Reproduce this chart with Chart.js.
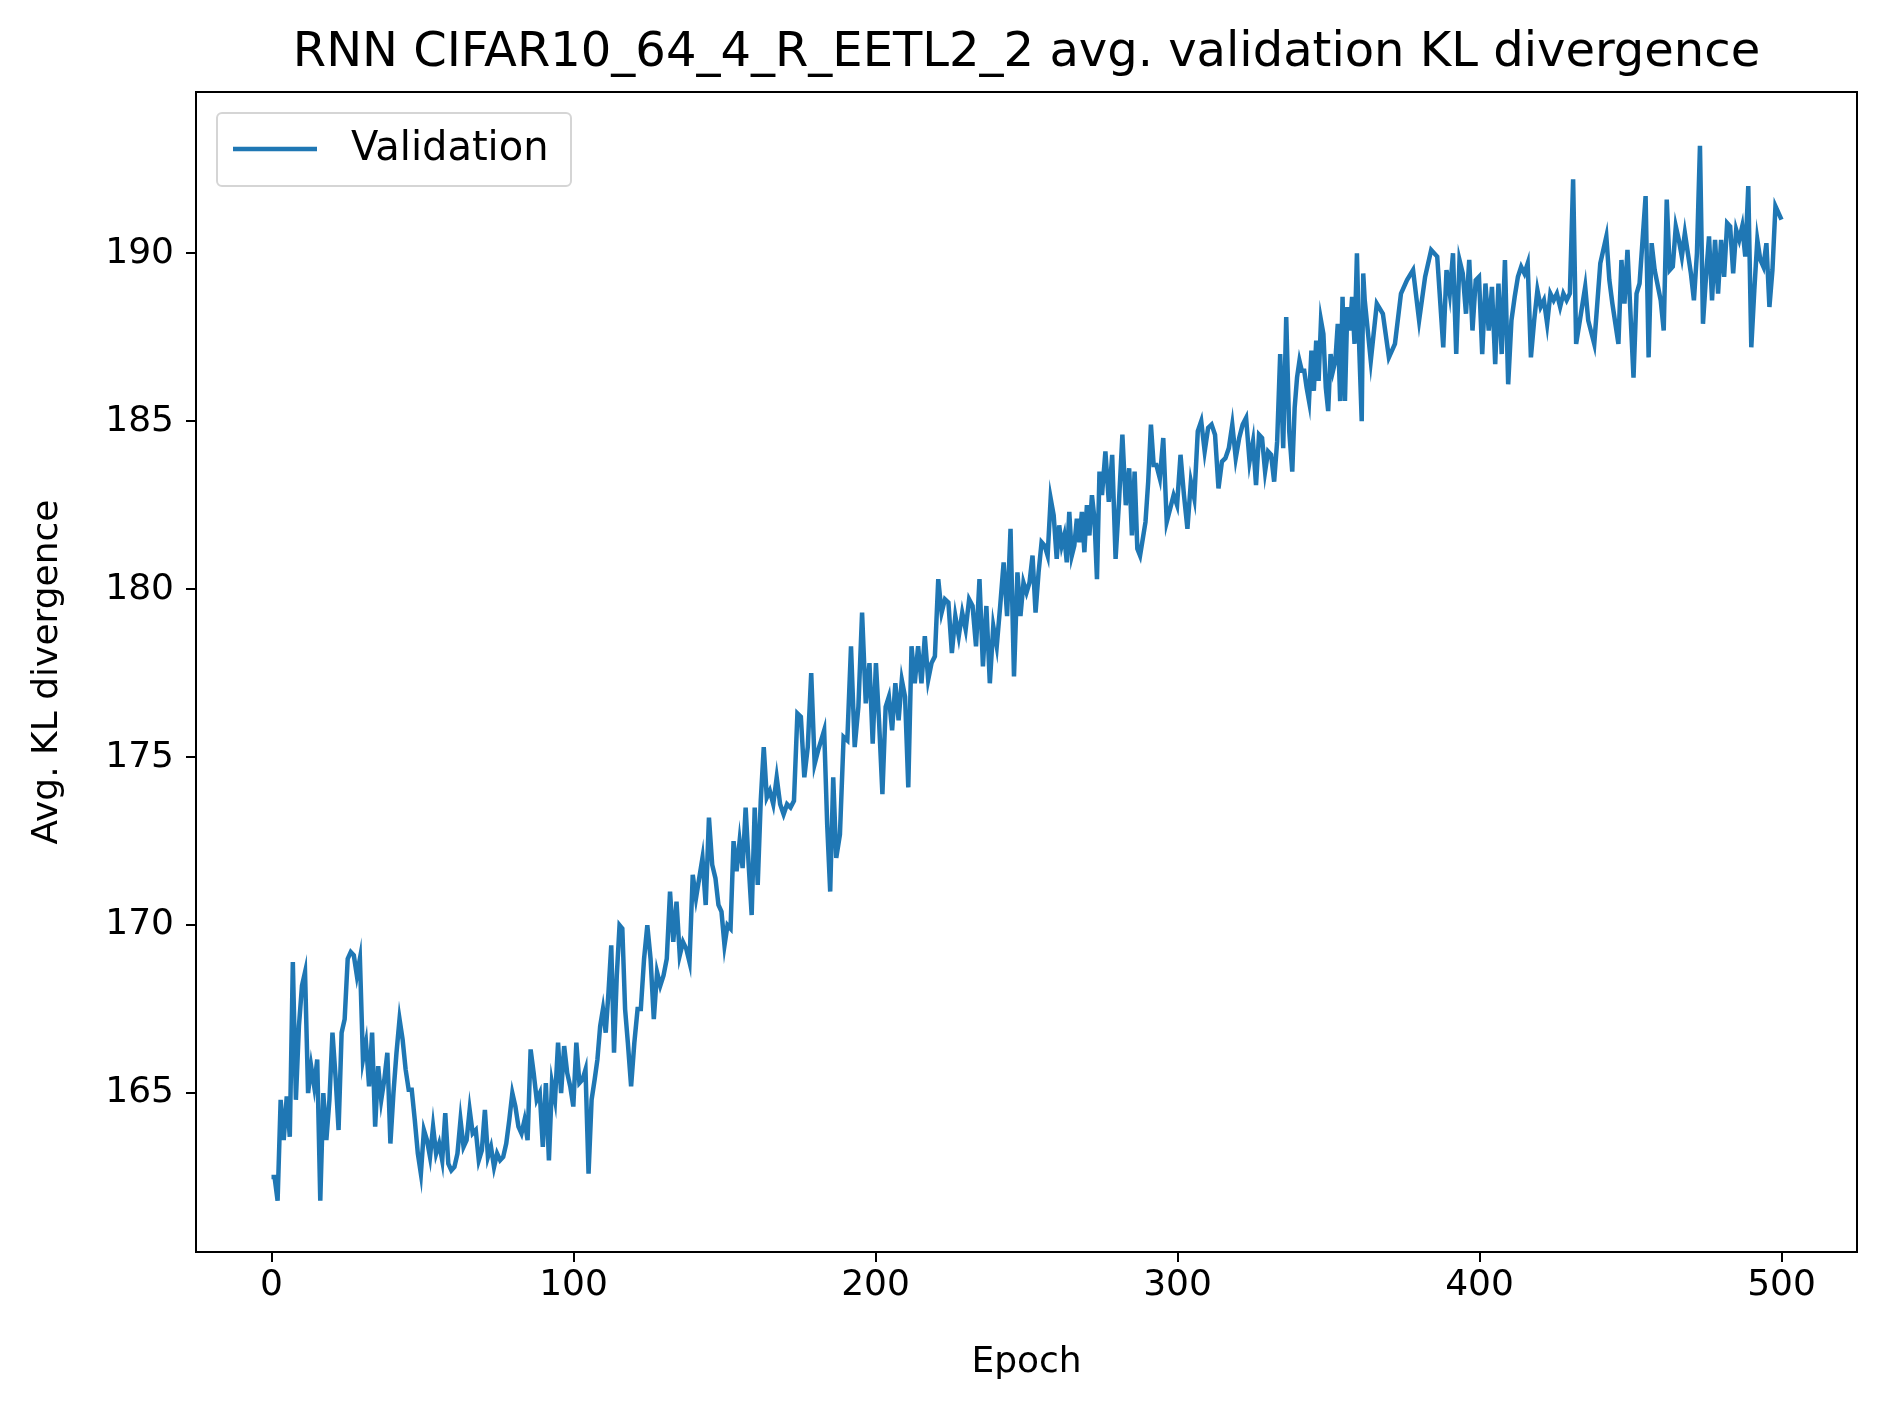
<!DOCTYPE html>
<html>
<head>
<meta charset="utf-8">
<script src="https://cdn.jsdelivr.net/npm/chart.js@4"></script>
<style>
  body { margin: 0; background: #fff; }
  #wrap { width: 1887px; height: 1408px; }
</style>
</head>
<body>
<div id="wrap"><canvas id="kl-chart"></canvas></div>
<script>
// values, epoch by epoch (spacing fixed up by the anchors below)
const klMain = [
  162.5,162.5,161.8,164.8,163.6,164.9,163.7,168.9,164.8,167,168.2,168.6,165,165.8,165.2,166,161.8,165,163.6,164.8,
  166.8,165.5,163.9,166.8,167.2,169,169.2,169.1,168.5,169,166,166.5,165.2,166.8,164,165.8,164.8,165.4,166.2,163.5,
  165,166.2,167.2,166.6,165.7,165.1,165.1,164.2,163.2,162.6,163.9,163.6,163.1,164,163.2,163.5,163,164.4,162.9,162.7,
  162.8,163.2,164.2,163.4,163.6,164.5,163.8,163.9,163,163.3,164.5,163.1,163.4,162.8,163.2,163,163.1,163.5,164.2,165,
  164.6,164,163.8,164.2,163.6,166.3,165.6,164.8,165,163.4,165.3,163,165.3,164.8,166.5,165,166.4,165.6,165.2,164.6,
  166.5,165.3,165.4,165.7,162.6,164.8,165.4,166,167,167.5,166.8,168,169.4,166.2,168.5,170,169.9,167.5,166.5,165.2,
  166.5,167.5,167.5,169,170,169,167.2,168.6,168.2,168.5,169,171,169.5,170.7,169.1,169.5,169.3,168.9,171.5,170.8,
  171.4,172,170.6,173.2,171.8,171.4,170.6,170.4,169.4,170,169.9,172.5,171.6,172.5,171.7,173.5,171.8,170.3,173.5,171.2,
  173.7,175.3,173.8,174,173.6,174.4,173.6,173.3,173.6,173.5,173.7,176.3,176.2,174.4,175.3,177.5,174.8,175.2,175.5,175.8,
  173,171,174.4,172,172.7,175.6,175.5,178.3,175.3,176.5,179.3,176.6,177.8,175.4,177.8,176,173.9,176.5,176.8,175.8,
  177.2,176.1,177.3,176.8,174.1,178.3,177.2,178.3,177.2,178.6,177.3,177.8,178,180.3,179.3,179.7,179.6,178.1,179.2,178.6,
  179.3,178.8,179.7,179.5,178.3,180.3,177.7,179.5,177.2,178.9,178.3,179.5,180.8,179.2,181.8,177.4,180.5,179.2,180.2,179.9,
  180.2,181,179.3,180.5,181.4,181.3,181,182.7,182.2,180.9,181.9,181.3,181.6,180.8,182.3,181,181.3,182.1,181.4,182.3,
  181.1,182.5,181.6,182.8,182.1,180.3,183.5,182.8,184.1,182.6,184,180.9,182.6,184.6,182.5,183.6,181.6,183.5,181.2,181,
  181.5,182,183.2,184.9,183.7,183.7,183.3,184.5,182,182.4,182.8,182.5,184,182.8,181.8,183.2,182.7,184.7,185,184.1,
  184.8,184.9,184.6,183,183.8,183.9,184.2,184.9,183.9,184.5,184.9,185.1,183.8,184.4,183.1,184.6,184.5,183.5,184.1,184,
  183.2,184.4,187,184.2,188.1,184.7,183.5,185.4,186.3,186.8,186.5,186.5,186,185.6,187.1,185.9,187.4,186.2,188,187.6,
  186,185.3,187,186.5,186.8,187.9,185.6,188.7,185.6,188.4,187.7,188.7,187.3,190,187.1,185,189.4,188.6,186.8,188.5,
  188.2,186.9,187.3,188.8,189.2,189.5,188,189.3,190.1,189.9,187.2,189.5,188.8,190,187,189.8,189.4,188.2,189.8,187.7,
  189.2,189.3,187,189.1,187.7,189,186.7,189.1,187,189.8,186.1,188,188.7,189.3,189.6,189.4,189.7,186.9,188,188.9,
  188.4,188.6,187.9,188.8,188.6,188.8,188.4,188.8,188.6,188.8,192.2
];
// index -> epoch anchors
const anchorIdx   = [0, 106, 118, 145, 163, 177, 183, 192, 206, 215, 236, 249, 267, 275, 285, 313, 326, 355, 357, 370, 410];
const anchorEpoch = [0, 107, 118, 147, 165, 181, 187, 198, 213, 223, 247, 260, 275, 284, 293, 325, 338, 361, 362, 388, 431];

const tailEpochs = [432,435,436,438,440,442,443,444,446,447,448,449,451,452,453,455,456,457,458,460,461,462,463,464,465,466,467,468,470,471,472,473,474,475,476,477,478,479,480,481,482,483,484,485,486,487,488,489,490,491,492,493,494,495,496,497,498,499,500];
const tailKl = [187.3,189,188,187.3,189.7,190.5,189.2,188.5,187.3,189.8,188.5,190.1,186.3,188.8,189.1,191.7,186.9,190.3,189.5,188.6,187.7,191.6,189.5,189.6,190.8,190.4,189.9,190.6,189.4,188.6,190,193.2,187.9,189.3,190.5,188.6,190.4,188.8,190.4,189.3,190.9,190.8,189.4,190.7,190.4,190.8,189.9,192,187.2,188.9,190.4,189.8,189.6,190.3,188.4,189.5,191.4,191.2,191];

const xTicks = [0, 100, 200, 300, 400, 500];
const yTicks = [165, 170, 175, 180, 185, 190];

const epochOf = (i) => {
    for(let k=1; k<anchorIdx.length; k++){
        if(i <= anchorIdx[k]){
            const a = anchorIdx[k-1], b = anchorIdx[k];
            return anchorEpoch[k-1] + (i - a) * (anchorEpoch[k] - anchorEpoch[k-1]) / (b - a);
        }
    }
    return anchorEpoch[anchorEpoch.length-1];
};

const points = klMain.map((v, i) => ({ x: epochOf(i), y: v }));
tailEpochs.forEach((e, i) => points.push({ x: e, y: tailKl[i] }));

const FONT = 'DejaVu Sans';
const BLUE = '#1f77b4';

const framePlugin = {
    id: 'frame',
    afterDraw(chart){
        const { ctx, chartArea: a } = chart;
        ctx.save();
        ctx.strokeStyle = '#000';
        ctx.lineWidth = 2;
        ctx.strokeRect(a.left, a.top, a.right - a.left, a.bottom - a.top);
        // title
        ctx.fillStyle = '#000';
        ctx.font = '48px ' + FONT;
        ctx.textAlign = 'center';
        ctx.textBaseline = 'middle';
        ctx.fillText('RNN CIFAR10_64_4_R_EETL2_2 avg. validation KL divergence', (a.left + a.right) / 2, 54);
        // legend
        const lx = a.left + 21, ly = a.top + 21;
        ctx.fillStyle = 'rgba(255,255,255,0.8)';
        ctx.strokeStyle = '#d5d5d5';
        ctx.lineWidth = 2;
        ctx.beginPath();
        ctx.roundRect(lx, ly, 354, 73, 5);
        ctx.fill();
        ctx.stroke();
        ctx.strokeStyle = BLUE;
        ctx.lineWidth = 4.5;
        ctx.beginPath();
        ctx.moveTo(lx + 16, ly + 36);
        ctx.lineTo(lx + 100, ly + 36);
        ctx.stroke();
        ctx.fillStyle = '#000';
        ctx.font = '40px ' + FONT;
        ctx.textAlign = 'left';
        ctx.textBaseline = 'middle';
        ctx.fillText(chart.data.datasets[0].label, lx + 134, ly + 37);
        ctx.restore();
    }
};

new Chart(document.getElementById('kl-chart').getContext('2d'), {
    type: 'line',
    data: {
        datasets: [{
            label: 'Validation',
            data: points,
            borderColor: BLUE,
            borderWidth: 4.5,
            pointRadius: 0,
            tension: 0,
            fill: false
        }]
    },
    options: {
        responsive: true,
        maintainAspectRatio: false,
        animation: false,
        devicePixelRatio: 1,
        layout: { padding: { top: 92, right: 30, left: 0, bottom: 0 } },
        plugins: { legend: { display: false }, tooltip: { enabled: false } },
        scales: {
            x: {
                type: 'linear',
                min: -25,
                max: 525,
                afterBuildTicks: (s) => { s.ticks = xTicks.map(v => ({ value: v })); },
                afterFit: (s) => { s.height = 156; },
                grid: { display: true, drawOnChartArea: false, drawTicks: true, tickLength: 10, color: '#000', lineWidth: 2 },
                border: { display: false },
                ticks: { color: '#000', font: { family: FONT, size: 36 }, padding: 2, maxRotation: 0 },
                title: { display: true, text: 'Epoch', color: '#000', font: { family: FONT, size: 36 }, padding: { top: 0, bottom: 24 } }
            },
            y: {
                min: 160.27,
                max: 194.8,
                afterBuildTicks: (s) => { s.ticks = yTicks.map(v => ({ value: v })); },
                afterFit: (s) => { s.width = 196; },
                grid: { display: true, drawOnChartArea: false, drawTicks: true, tickLength: 10, color: '#000', lineWidth: 2 },
                border: { display: false },
                ticks: { color: '#000', font: { family: FONT, size: 36 }, padding: 12 },
                title: { display: true, text: 'Avg. KL divergence', color: '#000', font: { family: FONT, size: 36 }, padding: { bottom: 0, top: 26 } }
            }
        }
    },
    plugins: [framePlugin]
});
</script>
</body>
</html>
